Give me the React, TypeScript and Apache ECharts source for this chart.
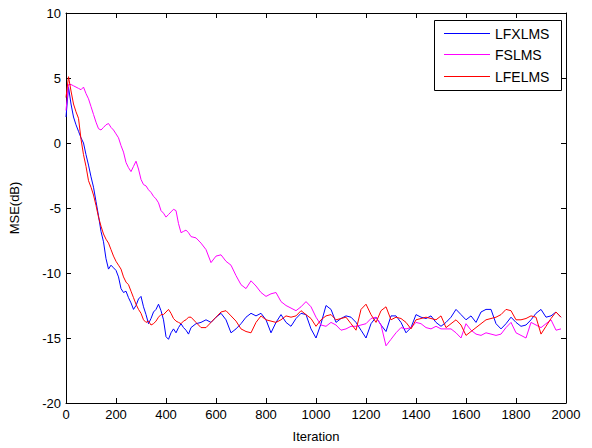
import React, { useEffect, useRef } from "react";
import * as echarts from "echarts";

// Iteration sampling grid: every 10 up to 500, then every 20
const ITER_A = Array.from({ length: 51 }, (_, i) => i * 10);
const ITER_B = Array.from({ length: 74 }, (_, i) => 520 + i * 20);
const ITERATIONS = [...ITER_A, ...ITER_B];

const X_TICKS = [0, 200, 400, 600, 800, 1000, 1200, 1400, 1600, 1800, 2000];
const Y_TICKS = [-20, -15, -10, -5, 0, 5, 10];

const SERIES_NAMES = ["LFXLMS", "FSLMS", "LFELMS"];
const SERIES_COLORS = ["#0000FF", "#FF00FF", "#FF0000"];

const LFXLMS = [
  2.0, 4.3, 3.0, 2.0, 1.4, 0.9, 0.4, 0.0, -0.9, -1.7,
  -2.6, -3.4, -4.5, -5.6, -6.8, -7.6, -8.9, -9.7, -9.4, -9.6,
  -9.8, -10.3, -11.2, -11.5, -11.4, -11.9, -12.3, -12.8, -12.5, -12.0,
  -11.8, -12.6, -13.2, -13.9, -13.5, -13.0, -12.8, -12.4, -12.9, -13.6,
  -14.9, -15.1, -14.6, -14.3, -14.6, -14.2, -13.9, -14.2, -14.4, -14.7,
  -14.2,
  -13.9, -13.8, -13.6, -13.8, -13.4, -13.1, -13.6, -14.6, -14.3, -13.9,
  -13.4, -13.1, -13.3, -13.1, -13.6, -14.6, -13.8, -13.2, -13.8, -14.1,
  -13.5, -13.1, -13.2, -14.3, -15.0, -13.9, -12.5, -12.8, -13.8, -13.5,
  -13.3, -13.4, -13.8, -14.4, -15.0, -13.9, -13.4, -14.0, -14.5, -13.3,
  -13.3, -13.8, -14.6, -14.2, -13.2, -13.4, -13.5, -13.3, -13.8, -14.1,
  -13.8, -13.4, -12.8, -13.2, -13.6, -13.3, -13.8, -13.0, -12.8, -12.8,
  -13.9, -14.3, -13.9, -13.4, -13.8, -14.1, -14.0, -13.6, -13.1, -12.8,
  -13.4, -13.3, -13.0, -13.4,
];

const FSLMS = [
  2.5, 4.5, 4.5, 4.4, 4.3, 4.2, 4.1, 4.3, 3.8, 3.4,
  2.8, 2.2, 1.6, 1.1, 1.0, 1.2, 1.4, 1.5, 1.2, 1.0,
  0.7, 0.4, -0.2, -0.7, -1.5, -1.9, -2.2, -1.8, -1.4, -2.0,
  -2.8, -3.2, -3.3, -3.6, -3.8, -4.1, -4.3, -4.6, -5.2, -5.4,
  -5.7, -5.5, -5.3, -5.1, -5.2, -6.2, -6.9, -6.8, -6.7, -6.9,
  -7.2,
  -7.3, -7.7, -8.2, -9.2, -8.7, -8.6, -9.1, -9.4, -10.2, -10.9,
  -11.2, -10.6, -11.0, -11.5, -11.8, -11.6, -11.5, -12.2, -12.5, -12.7,
  -12.9, -12.6, -12.2, -12.6, -13.4, -14.0, -14.1, -13.8, -14.0, -14.4,
  -14.3, -14.1, -14.1, -14.0, -13.9, -13.5, -13.4, -14.0, -15.6, -15.1,
  -14.6, -14.2, -14.3, -14.2, -13.8, -13.9, -14.2, -14.3, -14.1, -14.3,
  -14.3, -14.3, -14.6, -15.0, -13.9, -14.4, -14.7, -14.8, -14.6, -14.7,
  -14.8, -14.7, -14.2, -13.8, -14.6, -14.8, -15.0, -13.8, -14.0, -14.2,
  -13.9, -13.6, -14.4, -14.3,
];

const LFELMS = [
  3.5, 5.1, 4.0, 3.0, 2.4, 1.9, 0.3, -0.9, -1.8, -2.9,
  -3.4, -4.0, -4.8, -5.7, -6.4, -7.0, -7.4, -7.7, -8.2, -8.7,
  -9.1, -9.4, -9.7, -10.3, -10.7, -10.9, -11.4, -11.9, -12.4, -12.8,
  -13.1, -13.6, -13.8, -13.7, -14.0, -13.9, -13.7, -13.4, -13.2, -13.2,
  -13.0, -12.8, -13.1, -13.5, -13.7, -13.8, -13.9, -13.7, -13.6, -13.4,
  -13.4,
  -13.8, -14.2, -14.2, -13.8, -13.4, -13.0, -12.9, -13.3, -13.7, -14.3,
  -14.5, -14.6, -13.8, -13.3, -13.6, -13.7, -13.8, -13.6, -13.3, -13.4,
  -13.3, -12.9, -13.2, -13.5, -14.1, -13.6, -13.3, -13.2, -13.6, -13.5,
  -13.4, -13.9, -14.4, -12.8, -12.4, -13.2, -13.8, -12.9, -12.6, -13.6,
  -13.4, -13.5, -13.8, -14.3, -13.6, -13.5, -13.4, -13.5, -13.6, -13.3,
  -14.2, -13.9, -13.6, -14.0, -14.8, -14.5, -14.2, -13.9, -13.6, -13.5,
  -13.4, -13.2, -12.8, -12.9, -13.6, -13.6, -13.5, -13.3, -13.4, -14.7,
  -14.1, -13.5, -13.0, -13.4,
];

const SERIES_VALUES = [LFXLMS, FSLMS, LFELMS];

const FONT = "'Liberation Sans', Arial, sans-serif";

export default function App() {
  const ref = useRef<HTMLDivElement>(null);

  useEffect(() => {
    document.body.style.margin = "0";
    if (!ref.current) return;
    const chart = echarts.init(ref.current, undefined, { renderer: "svg" });

    const gridLeft = 63;
    const gridTop = 13;
    const gridW = 503;
    const gridH = 395;

    const axisCommon = {
      axisLine: { show: true, onZero: false, lineStyle: { color: "#000", width: 1 } },
      axisTick: { show: true, inside: true, length: 5, lineStyle: { color: "#000", width: 1 } },
      splitLine: { show: false },
    };

    const legendX = 434.5;
    const legendY = 20.5;
    const rowY = [33.5, 54.5, 76.5];

    const legendGraphics: any[] = [
      {
        type: "rect",
        shape: { x: legendX, y: legendY, width: 127, height: 70 },
        style: { fill: "#fff", stroke: "#000", lineWidth: 1 },
        z: 100,
      },
    ];
    SERIES_NAMES.forEach((name, i) => {
      legendGraphics.push({
        type: "line",
        shape: { x1: 444, y1: rowY[i], x2: 490, y2: rowY[i] },
        style: { stroke: SERIES_COLORS[i], lineWidth: 1 },
        z: 101,
      });
      legendGraphics.push({
        type: "text",
        x: 495,
        y: rowY[i],
        style: {
          text: name,
          fill: "#000",
          font: `14px ${FONT}`,
          textVerticalAlign: "middle",
          verticalAlign: "middle",
        },
        z: 101,
      });
    });

    const plain = (v: number) => String(v);

    chart.setOption({
      animation: false,
      backgroundColor: "#fff",
      textStyle: { fontFamily: FONT },
      grid: { left: gridLeft, top: gridTop, width: gridW, height: gridH, containLabel: false },
      xAxis: [
        {
          type: "value",
          position: "bottom",
          min: X_TICKS[0],
          max: X_TICKS[X_TICKS.length - 1],
          interval: 200,
          ...axisCommon,
          axisLabel: { color: "#000", fontSize: 13, margin: 5, fontFamily: FONT, formatter: plain },
          name: "Iteration",
          nameLocation: "middle",
          nameGap: 27,
          nameTextStyle: { color: "#000", fontSize: 13, fontFamily: FONT },
        },
        {
          type: "value",
          position: "top",
          min: X_TICKS[0],
          max: X_TICKS[X_TICKS.length - 1],
          interval: 200,
          ...axisCommon,
          axisLabel: { show: false },
        },
      ],
      yAxis: [
        {
          type: "value",
          position: "left",
          min: Y_TICKS[0],
          max: Y_TICKS[Y_TICKS.length - 1],
          interval: 5,
          ...axisCommon,
          axisLabel: { color: "#000", fontSize: 13, margin: 5, fontFamily: FONT, formatter: plain },
          name: "MSE(dB)",
          nameLocation: "middle",
          nameGap: 45,
          nameTextStyle: { color: "#000", fontSize: 13, fontFamily: FONT },
        },
        {
          type: "value",
          position: "right",
          min: Y_TICKS[0],
          max: Y_TICKS[Y_TICKS.length - 1],
          interval: 5,
          ...axisCommon,
          axisLabel: { show: false },
        },
      ],
      series: SERIES_NAMES.map((name, i) => ({
        name,
        type: "line",
        xAxisIndex: 0,
        yAxisIndex: 0,
        showSymbol: false,
        symbol: "none",
        lineStyle: { color: SERIES_COLORS[i], width: 1 },
        data: ITERATIONS.map((x, j) => [x, SERIES_VALUES[i][j]]),
        z: 10 + (i === 2 ? 1 : 0),
      })),
      graphic: legendGraphics,
    });

    return () => chart.dispose();
  }, []);

  return <div ref={ref} style={{ width: 592, height: 448 }} />;
}
